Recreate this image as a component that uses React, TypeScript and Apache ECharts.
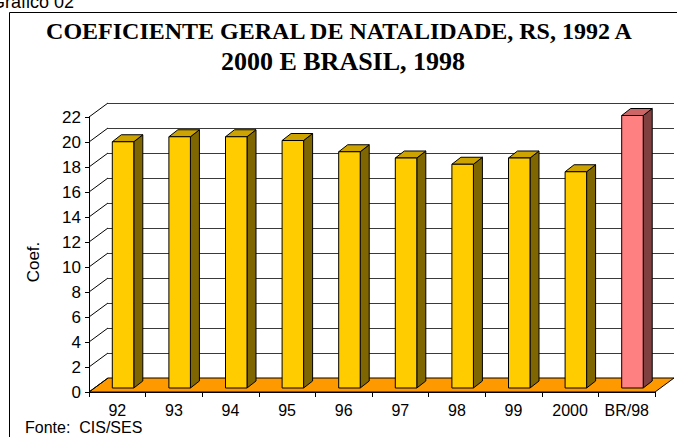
import React, { useEffect, useRef } from "react";
import * as echarts from "echarts";

const categories = ["92", "93", "94", "95", "96", "97", "98", "99", "2000", "BR/98"];
const values = [19.7, 20.1, 20.1, 19.8, 18.9, 18.4, 17.9, 18.4, 17.3, 21.8];
const yTicks = [0, 2, 4, 6, 8, 10, 12, 14, 16, 18, 20, 22];
const titleLines = ["COEFICIENTE GERAL DE NATALIDADE, RS, 1992 A", "2000 E BRASIL, 1998"];
const yAxisName = "Coef.";
const sourceText = "Fonte:  CIS/SES";
const topText = "Gráfico 02";

const DX = 19;
const DY = -14;

const palette = {
  yellow: { front: "#FFCC00", side: "#806600", top: "#CCA300" },
  pink: { front: "#FF8080", side: "#804040", top: "#CC6666" },
};

export default function App() {
  const ref = useRef<HTMLDivElement>(null);
  useEffect(() => {
    const chart = echarts.init(ref.current!, null, { renderer: "svg" });
    const fontSans = "'Liberation Sans', Arial, sans-serif";
    const fontSerif = "'Liberation Serif', 'Times New Roman', serif";
    const option: any = {
      animation: false,
      backgroundColor: "#fff",
      grid: [
        { left: 89, top: 117, width: 566, height: 275 },
        { left: 89 + DX, top: 117 + DY, width: 566, height: 275 },
      ],
      xAxis: [
        {
          type: "category",
          gridIndex: 0,
          data: categories,
          axisLine: { show: true, lineStyle: { color: "#000", width: 1 } },
          axisTick: { show: true, interval: 0, length: 5, lineStyle: { color: "#000" } },
          axisLabel: { color: "#000", fontSize: 16, fontFamily: fontSans, margin: 10, interval: 0 },
          z: 5,
        },
        {
          type: "category",
          gridIndex: 1,
          data: categories,
          show: false,
        },
      ],
      yAxis: [
        {
          type: "value",
          gridIndex: 0,
          min: 0,
          max: 22,
          interval: 2,
          axisLine: { show: true, lineStyle: { color: "#000", width: 1 } },
          axisTick: { show: true, length: 4, lineStyle: { color: "#000" } },
          axisLabel: { color: "#000", fontSize: 17, fontFamily: fontSans, margin: 8 },
          splitLine: { show: false },
        },
        {
          type: "value",
          gridIndex: 1,
          min: 0,
          max: 22,
          interval: 2,
          axisLine: { show: false },
          axisTick: { show: false },
          axisLabel: { show: false },
          splitLine: { show: true, lineStyle: { color: "#3a3a3a", width: 1.2 } },
        },
      ],
      series: [
        {
          type: "custom",
          xAxisIndex: 0,
          yAxisIndex: 0,
          z: 1,
          data: yTicks.map((v) => [0, v]),
          renderItem: (params: any, api: any) => {
            const cs = params.coordSys;
            const v = api.value(1);
            const y = api.coord([0, v])[1];
            const children: any[] = [
              {
                type: "line",
                shape: { x1: cs.x, y1: y, x2: cs.x + DX, y2: y + DY },
                style: { stroke: "#000", lineWidth: 1 },
              },
            ];
            if (v === 0) {
              children.unshift({
                type: "polygon",
                shape: {
                  points: [
                    [cs.x, y],
                    [cs.x + cs.width, y],
                    [cs.x + cs.width + DX, y + DY],
                    [cs.x + DX, y + DY],
                  ],
                },
                style: { fill: "#FF9900", stroke: "#000", lineWidth: 1 },
              });
            }
            return { type: "group", children };
          },
        },
        {
          type: "custom",
          xAxisIndex: 0,
          yAxisIndex: 0,
          z: 3,
          data: values.map((v, i) => [i, v]),
          renderItem: (params: any, api: any) => {
            const idx = api.value(0);
            const v = api.value(1);
            const base = api.coord([idx, 0]);
            const top = api.coord([idx, v]);
            const band = api.size([1, 0])[0];
            const w = band * 0.38;
            const ox = 5;
            const oy = -4;
            const dx = 9;
            const dy = -7;
            const x0 = base[0] - ox;
            const x1 = x0 + w;
            const yb = base[1] + oy;
            const yt = top[1] + oy;
            const c = categories[idx] === "BR/98" ? palette.pink : palette.yellow;
            const stroke = { stroke: "#000", lineWidth: 1, lineJoin: "miter" };
            return {
              type: "group",
              children: [
                {
                  type: "polygon",
                  shape: { points: [[x1, yt], [x1 + dx, yt + dy], [x1 + dx, yb + dy], [x1, yb]] },
                  style: { fill: c.side, ...stroke },
                },
                {
                  type: "polygon",
                  shape: { points: [[x0, yt], [x0 + dx, yt + dy], [x1 + dx, yt + dy], [x1, yt]] },
                  style: { fill: c.top, ...stroke },
                },
                {
                  type: "rect",
                  shape: { x: x0, y: yt, width: w, height: yb - yt },
                  style: { fill: c.front, ...stroke },
                },
              ],
            };
          },
        },
      ],
      graphic: [
        {
          type: "line",
          shape: { x1: 9.5, y1: 12.5, x2: 700, y2: 12.5 },
          style: { stroke: "#000", lineWidth: 1 },
        },
        {
          type: "line",
          shape: { x1: 9.5, y1: 12.5, x2: 9.5, y2: 440 },
          style: { stroke: "#000", lineWidth: 1 },
        },
        {
          type: "text",
          x: 74,
          y: 11,
          style: {
            text: topText,
            align: "right",
            verticalAlign: "bottom",
            fontSize: 18,
            fontFamily: fontSans,
            fill: "#000",
          },
        },
        {
          type: "text",
          x: 339,
          y: 31,
          style: {
            text: titleLines[0],
            align: "center",
            verticalAlign: "middle",
            fontSize: 24,
            fontWeight: "bold",
            fontFamily: fontSerif,
            fill: "#000",
          },
        },
        {
          type: "text",
          x: 343,
          y: 61,
          style: {
            text: titleLines[1],
            align: "center",
            verticalAlign: "middle",
            fontSize: 26,
            fontWeight: "bold",
            fontFamily: fontSerif,
            fill: "#000",
          },
        },
        {
          type: "text",
          x: 33,
          y: 262,
          rotation: Math.PI / 2,
          style: {
            text: yAxisName,
            align: "center",
            verticalAlign: "middle",
            fontSize: 17,
            fontFamily: fontSans,
            fill: "#000",
          },
        },
        {
          type: "text",
          x: 25,
          y: 427,
          style: {
            text: sourceText,
            align: "left",
            verticalAlign: "middle",
            fontSize: 16,
            fontFamily: fontSans,
            fill: "#000",
          },
        },
      ],
    };
    chart.setOption(option);
    return () => chart.dispose();
  }, []);
  return (
    <div
      ref={ref}
      style={{ position: "absolute", left: 0, top: 0, width: 677, height: 437, background: "#fff" }}
    />
  );
}
